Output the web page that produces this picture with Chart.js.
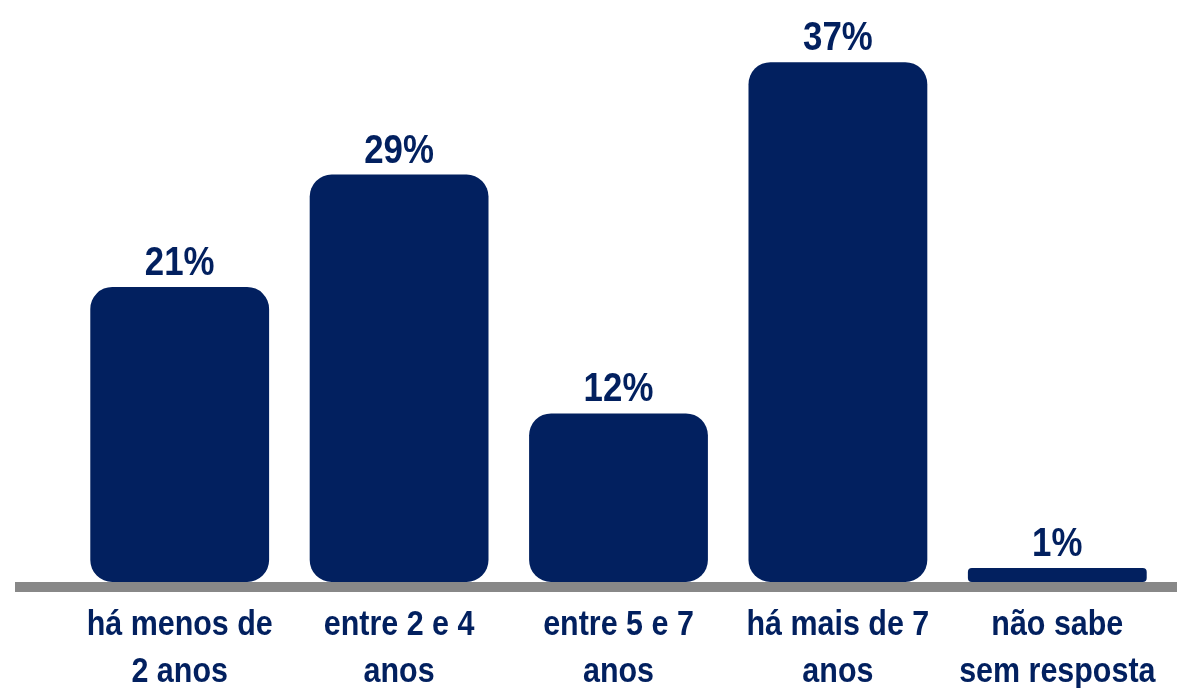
<!DOCTYPE html>
<html>
<head>
<meta charset="utf-8">
<script src="https://cdn.jsdelivr.net/npm/chart.js@4/dist/chart.umd.min.js"></script>
<style>
  html, body { margin: 0; padding: 0; background: #ffffff; }
  #wrap { width: 1177px; height: 688px; position: relative; }
</style>
</head>
<body>
<div id="wrap"><canvas id="c" width="1177" height="688"></canvas></div>
<script>
const categories = [
  ["há menos de", "2 anos"],
  ["entre 2 e 4", "anos"],
  ["entre 5 e 7", "anos"],
  ["há mais de 7", "anos"],
  ["não sabe", "sem resposta"]
];
const values = [21, 29, 12, 37, 1];
const valueLabels = ["21%", "29%", "12%", "37%", "1%"];

const NAVY = '#02205F';
const FONT = "'Liberation Sans', Arial, sans-serif";

// draw text horizontally condensed (the original uses a narrow face)
function narrowText(ctx, text, x, y, squeeze) {
  ctx.save();
  ctx.translate(x, y);
  ctx.scale(squeeze, 1);
  ctx.fillText(text, 0, 0);
  ctx.restore();
}

const baselinePlugin = {
  id: 'baseline',
  beforeDatasetsDraw(chart) {
    const ctx = chart.ctx;
    const y = chart.scales.y.getPixelForValue(0);
    ctx.save();
    ctx.fillStyle = '#888888';
    ctx.fillRect(15, y, chart.width - 15, 10);
    ctx.restore();
  }
};

const labelPlugin = {
  id: 'labels',
  afterDatasetsDraw(chart) {
    const ctx = chart.ctx;
    const meta = chart.getDatasetMeta(0);
    const xs = chart.scales.x;
    const base = chart.scales.y.getPixelForValue(0);
    ctx.save();
    ctx.fillStyle = NAVY;
    ctx.textAlign = 'center';
    ctx.textBaseline = 'alphabetic';
    ctx.font = "bold 41px " + FONT;
    meta.data.forEach((bar, i) => {
      narrowText(ctx, valueLabels[i], bar.x, bar.y - 12, 0.85);
    });
    ctx.font = "bold 35px " + FONT;
    categories.forEach((lines, i) => {
      const x = xs.getPixelForTick(i);
      lines.forEach((t, j) => {
        narrowText(ctx, t, x, base + 53 + j * 47, 0.87);
      });
    });
    ctx.restore();
  }
};

new Chart(document.getElementById('c'), {
  type: 'bar',
  data: {
    labels: categories,
    datasets: [{
      data: values,
      backgroundColor: NAVY,
      borderSkipped: false,
      borderRadius: c => (c.raw < 5 ? 4 : 22),
      barPercentage: 0.815,
      categoryPercentage: 1.0
    }]
  },
  options: {
    responsive: false,
    animation: false,
    devicePixelRatio: 1,
    layout: { padding: { left: 70, right: 10, top: 20, bottom: 0 } },
    plugins: { legend: { display: false }, tooltip: { enabled: false } },
    scales: {
      y: { display: false, min: 0, max: 40 },
      x: {
        grid: { display: false, drawTicks: false },
        border: { display: false },
        afterFit: s => { s.height = 106; },
        ticks: { display: false }
      }
    }
  },
  plugins: [baselinePlugin, labelPlugin]
});
</script>
</body>
</html>
